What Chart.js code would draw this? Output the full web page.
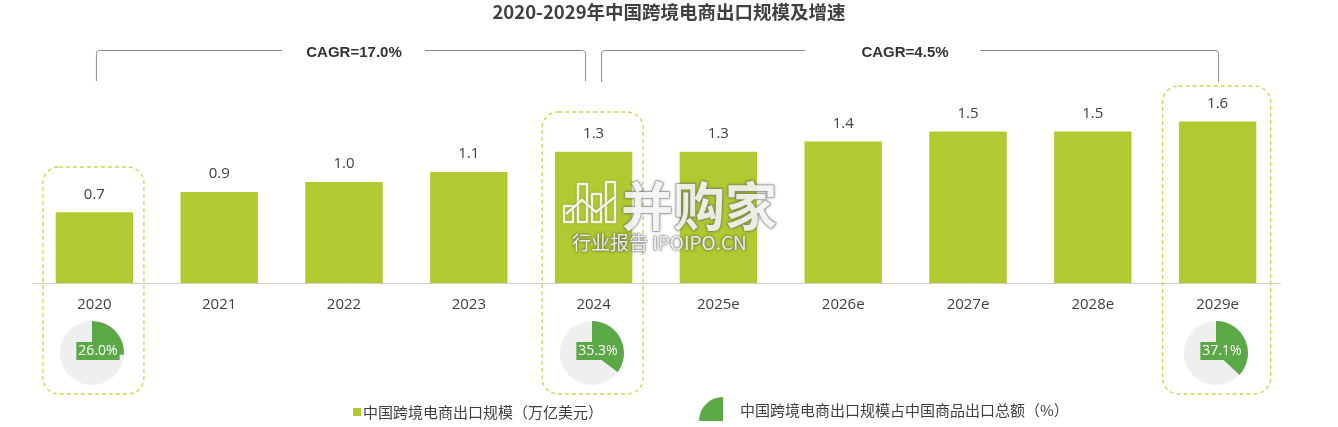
<!DOCTYPE html>
<html>
<head>
<meta charset="utf-8">
<script src="https://cdn.jsdelivr.net/npm/chart.js@4.4.1/dist/chart.umd.min.js"></script>
<style>
  body { margin: 0; background: #fff; }
  #wrap { position: relative; width: 1338px; height: 427px; overflow: hidden; }
  #wrap canvas { position: absolute; left: 0; top: 0; }
</style>
</head>
<body>
<div id="wrap"><canvas id="chartMain" width="1338" height="427"></canvas></div>
<script>
const years = ["2020", "2021", "2022", "2023", "2024", "2025e", "2026e", "2027e", "2028e", "2029e"];
const exportScale = [0.7, 0.9, 1.0, 1.1, 1.3, 1.3, 1.4, 1.5, 1.5, 1.6];
const pieYears = ["2020", "2024", "2029e"];
const pieShares = [26.0, 35.3, 37.1];
const cagrLabels = ["CAGR=17.0%", "CAGR=4.5%"];
const titleText = "2020-2029年中国跨境电商出口规模及增速";
const legendBar = "中国跨境电商出口规模（万亿美元）";
const legendPie = "中国跨境电商出口规模占中国商品出口总额（%）";

const LIME = "#afcb31";
const GREEN = "#5ba946";
const GREY_PIE = "#efefef";
const TEXT = "#404040";
const BOX = "#c5d94e";
const NUMF = "'Open Sans', 'Noto Sans CJK SC', sans-serif";
const CJKF = "'Noto Sans CJK SC', sans-serif";
const PIE_Y = 353;
const boxTops = [167, 112, 86];

function bracket(ctx, x1, x2, yTop, yBot, gapL, gapR) {
  ctx.beginPath();
  ctx.moveTo(x1, yBot);
  ctx.lineTo(x1, yTop + 3);
  ctx.quadraticCurveTo(x1, yTop, x1 + 3, yTop);
  ctx.lineTo(gapL, yTop);
  ctx.moveTo(gapR, yTop);
  ctx.lineTo(x2 - 3, yTop);
  ctx.quadraticCurveTo(x2, yTop, x2, yTop + 3);
  ctx.lineTo(x2, yBot);
  ctx.stroke();
}

function roundRect(ctx, x, y, w, h, r) {
  ctx.beginPath();
  ctx.moveTo(x + r, y);
  ctx.arcTo(x + w, y, x + w, y + h, r);
  ctx.arcTo(x + w, y + h, x, y + h, r);
  ctx.arcTo(x, y + h, x, y, r);
  ctx.arcTo(x, y, x + w, y, r);
  ctx.closePath();
}

const decor = {
  id: "decor",
  beforeDatasetsDraw(chart) {
    const ctx = chart.ctx;
    const xs = chart.scales.x;
    const px = i => xs.getPixelForValue(i);
    ctx.save();
    // title
    ctx.fillStyle = TEXT;
    ctx.font = "bold 18.5px " + CJKF;
    ctx.textAlign = "center";
    ctx.textBaseline = "middle";
    ctx.fillText(titleText, 669, 12);

    // CAGR brackets
    ctx.strokeStyle = "#8a8a8a";
    ctx.lineWidth = 1;
    const b1 = [px(0) + 2, px(4) - 8], b2 = [px(4) + 8, px(9) + 1];
    bracket(ctx, b1[0], b1[1], 50.5, 81, 282, 425);
    bracket(ctx, b2[0], b2[1], 50.5, 82, 805, 980);
    ctx.fillStyle = "#333";
    ctx.font = "bold 15px 'Liberation Sans', Arial, sans-serif";
    ctx.fillText(cagrLabels[0], 354, 52.5);
    ctx.fillText(cagrLabels[1], 905, 52.5);

    // dashed highlight boxes
    ctx.strokeStyle = BOX;
    ctx.lineWidth = 1.3;
    ctx.setLineDash([4, 3]);
    pieYears.forEach((yr, i) => {
      const cx = px(years.indexOf(yr));
      const w = i === 2 ? 108 : 101;
      roundRect(ctx, cx - w / 2 - 1, boxTops[i], w, 394 - boxTops[i], 16);
      ctx.stroke();
    });
    ctx.setLineDash([]);

    // legend
    ctx.fillStyle = LIME;
    ctx.fillRect(353, 408, 8, 8);
    ctx.fillStyle = TEXT;
    ctx.font = "15px " + CJKF;
    ctx.textAlign = "left";
    ctx.fillText(legendBar, 363, 412);
    ctx.fillStyle = GREEN;
    ctx.beginPath();
    ctx.moveTo(723, 421);
    ctx.arc(723, 421, 24, Math.PI, Math.PI * 1.5);
    ctx.closePath();
    ctx.fill();
    ctx.fillStyle = TEXT;
    ctx.fillText(legendPie, 740, 410);
    ctx.restore();
  },
  afterDatasetsDraw(chart) {
    const ctx = chart.ctx;
    const meta = chart.getDatasetMeta(0);
    ctx.save();
    ctx.fillStyle = TEXT;
    ctx.font = "15px " + NUMF;
    ctx.textAlign = "center";
    ctx.textBaseline = "middle";
    meta.data.forEach((bar, i) => {
      ctx.fillText(exportScale[i].toFixed(1), bar.x, bar.y - 18);
    });

    // watermark
    ctx.lineJoin = "round";
    ctx.shadowColor = "rgba(0,0,0,0.35)";
    ctx.shadowBlur = 3;
    ctx.strokeStyle = "rgba(150,150,150,0.7)";
    ctx.fillStyle = "rgba(255,255,255,0.85)";
    ctx.lineWidth = 1.5;
    ctx.font = "bold 52px " + CJKF;
    ctx.textAlign = "left";
    ctx.strokeText("并购家", 621, 206);
    ctx.fillText("并购家", 621, 206);
    ctx.font = "19px " + CJKF;
    ctx.lineWidth = 1.2;
    ctx.strokeText("行业报告 IPOIPO.CN", 572, 243);
    ctx.fillText("行业报告 IPOIPO.CN", 572, 243);
    ctx.shadowBlur = 2;
    ctx.strokeStyle = "rgba(255,255,255,0.9)";
    ctx.lineWidth = 2.5;
    [[564, 206, 9, 16], [578, 184, 9, 38], [592, 194, 9, 28], [606, 182, 9, 40]].forEach(r => ctx.strokeRect(r[0], r[1], r[2], r[3]));
    ctx.beginPath();
    ctx.moveTo(566, 214); ctx.lineTo(582, 200); ctx.lineTo(596, 212); ctx.lineTo(616, 196);
    ctx.stroke();
    ctx.restore();
  }
};

const pieLabel = {
  id: "pieLabel",
  afterDatasetsDraw(chart) {
    const ctx = chart.ctx;
    const arc = chart.getDatasetMeta(0).data[0];
    const txt = chart.data.datasets[0].data[0].toFixed(1) + "%";
    ctx.save();
    ctx.font = "14px " + NUMF;
    const w = ctx.measureText(txt).width + 4, h = 18;
    const lx = arc.x + 6, ly = arc.y - 2;
    ctx.fillStyle = GREEN;
    ctx.fillRect(lx - w / 2, ly - h / 2, w, h);
    ctx.fillStyle = "#fff";
    ctx.textAlign = "center";
    ctx.textBaseline = "middle";
    ctx.fillText(txt, lx, ly + 0.5);
    ctx.restore();
  }
};

const chartMain = new Chart(document.getElementById("chartMain"), {
  type: "bar",
  data: {
    labels: years,
    datasets: [{
      label: legendBar,
      data: exportScale,
      backgroundColor: LIME,
      borderWidth: 0,
      categoryPercentage: 1,
      barPercentage: 0.62
    }]
  },
  options: {
    responsive: false,
    animation: false,
    devicePixelRatio: 1,
    layout: { padding: { left: 32, right: 58, top: 81, bottom: 0 } },
    plugins: { legend: { display: false }, tooltip: { enabled: false } },
    scales: {
      x: {
        grid: { display: false, drawTicks: false },
        border: { display: true, color: "#cfcfcf", width: 1 },
        ticks: { color: TEXT, font: { family: NUMF, size: 15 }, padding: 13 },
        afterFit(s) { s.height = 144; }
      },
      y: { display: false, min: 0, max: 2 }
    }
  },
  plugins: [decor]
});

const wrap = document.getElementById("wrap");
pieYears.forEach((yr, i) => {
  const cx = chartMain.scales.x.getPixelForValue(years.indexOf(yr));
  const c = document.createElement("canvas");
  c.width = 72; c.height = 72;
  c.style.left = (cx - 38) + "px";
  c.style.top = (PIE_Y - 36) + "px";
  wrap.appendChild(c);
  new Chart(c, {
    type: "pie",
    data: {
      labels: [yr, "其他"],
      datasets: [{ data: [pieShares[i], 100 - pieShares[i]], backgroundColor: [GREEN, GREY_PIE], borderWidth: 0 }]
    },
    options: {
      responsive: false,
      animation: false,
      devicePixelRatio: 1,
      layout: { padding: 4 },
      plugins: { legend: { display: false }, tooltip: { enabled: false } }
    },
    plugins: [pieLabel]
  });
});
</script>
</body>
</html>
